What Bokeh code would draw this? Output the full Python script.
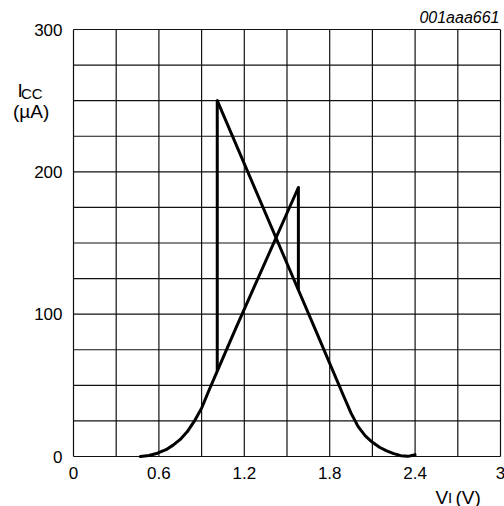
from bokeh.plotting import figure
from bokeh.models import Label, Range1d
from bokeh.core.properties import value
from bokeh.embed import file_html
from bokeh.resources import INLINE

# Data (V_I in volts, I_CC in microamps)
rise_v = [0.47, 0.53, 0.59, 0.65, 0.70, 0.75, 0.80, 0.85, 0.90, 0.95, 1.01, 1.14, 1.58]
rise_i = [0, 0.7, 2.3, 4.8, 8, 12, 17.5, 25, 34, 46, 60, 90, 189]

fall_v = [1.01, 1.58, 1.70, 1.90, 1.95, 2.00, 2.05, 2.10, 2.15, 2.20, 2.25, 2.30, 2.35, 2.40]
fall_i = [250, 117, 89, 42, 30.5, 21, 14.5, 10, 6.5, 4, 2, 0.6, 0.1, 1.2]

# hysteresis jumps: (V, I_from, I_to)
jump_v = [1.58, 1.01]
jump_from = [189, 60]
jump_to = [117, 250]

x_ticks = [0, 0.6, 1.2, 1.8, 2.4, 3]
x_tick_labels = ["0", "0.6", "1.2", "1.8", "2.4", "3"]
y_ticks = [0, 100, 200, 300]
y_tick_labels = ["0", "100", "200", "300"]
x_grid = [0.3 * k for k in range(11)]
y_grid = [25 * k for k in range(13)]
X_MIN, X_MAX = 0, 3
Y_MIN, Y_MAX = 0, 300

FONT = "Liberation Sans"
W, H = 504, 506
# plot area occupies pixels 73..500 horizontally and 29..456 vertically
PX_LEFT, PX_RIGHT, PX_TOP, PX_BOTTOM = 73, 500, 29, 456
sx = (PX_RIGHT - PX_LEFT) / (X_MAX - X_MIN)
sy = (PX_BOTTOM - PX_TOP) / (Y_MAX - Y_MIN)

p = figure(width=W, height=H, output_backend="svg", toolbar_location=None,
           x_range=Range1d(X_MIN - PX_LEFT / sx, X_MAX + (W - PX_RIGHT) / sx),
           y_range=Range1d(Y_MIN - (H - PX_BOTTOM) / sy, Y_MAX + PX_TOP / sy),
           min_border=0)
p.frame_width = W
p.frame_height = H
p.axis.visible = False
p.grid.visible = False
p.outline_line_color = None

# grid (includes plot-area border)
p.segment(x0=x_grid, y0=[Y_MIN] * len(x_grid), x1=x_grid, y1=[Y_MAX] * len(x_grid),
          line_color="#111111", line_width=1.2)
p.segment(x0=[X_MIN] * len(y_grid), y0=y_grid, x1=[X_MAX] * len(y_grid), y1=y_grid,
          line_color="#111111", line_width=1.2)

# tick labels
p.text(x=x_ticks, y=[Y_MIN] * len(x_ticks), text=x_tick_labels, y_offset=10,
       text_align="center", text_baseline="top", text_font=value(FONT),
       text_font_size="17px", text_color="black")
p.text(x=[X_MIN] * len(y_ticks), y=y_ticks, text=y_tick_labels, x_offset=-11,
       text_align="right", text_baseline="middle", text_font=value(FONT),
       text_font_size="17px", text_color="black")

# curves
p.line(rise_v, rise_i, line_color="black", line_width=3, line_join="round", line_cap="round")
p.line(fall_v, fall_i, line_color="black", line_width=3, line_join="round", line_cap="round")
p.segment(x0=jump_v, y0=jump_from, x1=jump_v, y1=jump_to, line_color="black", line_width=3)

# axis titles and figure code (screen units: from left / bottom of canvas)
def lab(x, y, text, size, style="normal", align="left"):
    p.add_layout(Label(x=x, y=y + 6, x_units="screen", y_units="screen", text=text,
                       text_baseline="alphabetic",
                       text_font=FONT, text_font_size=size, text_font_style=style,
                       text_align=align, text_color="black"))

lab(17, H - 96, "I", "19px")
lab(20.5, H - 99, "CC", "15px")
lab(12.5, H - 117, "(µA)", "19px")
lab(435, H - 502.5, "V", "19px")
lab(447.5, H - 503, "I", "15px")
lab(455, H - 502.5, "(V)", "19px")
lab(499, H - 23, "001aaa661", "16px", style="italic", align="right")

open("out.html", "w").write(file_html(p, INLINE))
